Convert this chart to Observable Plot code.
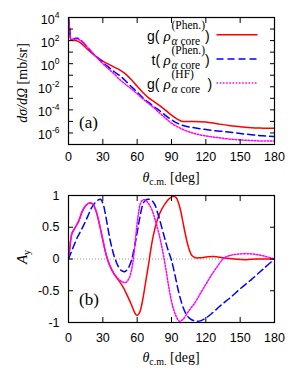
<!DOCTYPE html>
<html><head><meta charset="utf-8">
<script src="https://cdn.jsdelivr.net/npm/d3@7"></script>
<script src="https://cdn.jsdelivr.net/npm/@observablehq/plot@0.6"></script>
<style>
html,body{margin:0;padding:0;background:#fff;}
#chart{position:relative;width:291px;height:382px;overflow:hidden;background:#fff;}
#chart svg{position:absolute;left:0;overflow:visible;background:transparent;}
</style></head><body><div id="chart"></div>
<script>
// ---------- data ----------
const xTicks = [0, 30, 60, 90, 120, 150, 180];
const xTickLabels = ["0", "30", "60", "90", "120", "150", "180"];
const sigmaTicks = [1e-7, 1e-6, 1e-5, 1e-4, 1e-3, 1e-2, 1e-1, 1, 1e1, 1e2, 1e3, 1e4];
const sigmaTickLabelValues = [1e-6, 1e-4, 1e-2, 1, 1e2, 1e4];
const sigmaTickLabels = ["10^-6", "10^-4", "10^-2", "10^0", "10^2", "10^4"];
const ayTicks = [-1, -0.5, 0, 0.5, 1];
const ayTickLabels = ["-1", "-0.5", "0", "0.5", "1"];

const seriesNames = ["g Phen", "t Phen", "g HF"];
const seriesColors = ["#ff0000", "#0000ff", "#ff00ff"];

// panel (a): cross section
const thetaA = [0, 1, 2, 4, 6, 8, 10, 15, 20, 25, 30, 35, 40, 45, 50, 55, 60, 65, 70, 75, 80, 85, 90, 95, 100, 110, 120, 130, 140, 150, 160, 170, 180];
const sigmaGPhen = [8e3, 1e3, 1.1e2, 1.0e2, 1.0e2, 9e1, 7e1, 25, 9, 3.5, 1.7, 0.9, 0.5, 0.28, 0.125, 0.04, 0.011, 3.2e-3, 1.1e-3, 5e-4, 2.2e-4, 9e-5, 3.5e-5, 1.6e-5, 1.0e-5, 1.0e-5, 9e-6, 6.3e-6, 4.5e-6, 3.5e-6, 2.8e-6, 2.6e-6, 2.5e-6];
const sigmaTPhen = [8e3, 1e3, 1.25e2, 1.25e2, 1.6e2, 1.6e2, 1.25e2, 40, 11, 3.5, 1.25, 0.5, 0.2, 0.09, 0.032, 0.01, 3.5e-3, 1.1e-3, 4.5e-4, 1.8e-4, 8e-5, 3.2e-5, 1.4e-5, 7e-6, 4.5e-6, 2.8e-6, 2e-6, 1.5e-6, 1.2e-6, 9e-7, 7e-7, 5.6e-7, 5e-7];
const sigmaGHF = [8e3, 1e3, 1.25e2, 1.25e2, 1.4e2, 1.4e2, 1.1e2, 40, 11, 3.2, 1.0, 0.35, 0.125, 0.04, 0.016, 6.3e-3, 2.5e-3, 9e-4, 3.5e-4, 1.4e-4, 5e-5, 1.8e-5, 7e-6, 3.5e-6, 2e-6, 9e-7, 5.5e-7, 4e-7, 3e-7, 2.5e-7, 2.2e-7, 2e-7, 2e-7];

// panel (b): analyzing power
const thetaBGPhen = [0, 1, 3, 6, 9, 12, 15, 18, 21, 24, 27, 30, 33, 36, 40, 44, 48, 52, 55, 58, 60, 62, 64, 66, 68, 70, 72, 74, 77, 80, 84, 88, 92, 94, 96, 98, 100, 102, 104, 106, 108, 111, 115, 120, 127, 135, 145, 155, 165, 180];
const ayGPhen = [0, 0.15, 0.4, 0.5, 0.6, 0.75, 0.84, 0.88, 0.87, 0.76, 0.55, 0.3, 0.06, -0.1, -0.24, -0.34, -0.45, -0.6, -0.72, -0.85, -0.89, -0.85, -0.72, -0.52, -0.3, -0.08, 0.16, 0.36, 0.58, 0.73, 0.86, 0.95, 0.99, 0.97, 0.89, 0.76, 0.58, 0.4, 0.24, 0.12, 0.05, 0.02, 0.02, 0.03, 0.04, 0.02, 0.0, -0.01, 0.0, 0];
const thetaBTPhen = [0, 4, 8, 11, 14, 17, 20, 23, 26, 28, 30, 32, 34, 36, 38, 40, 43, 46, 49, 52, 55, 58, 60, 62, 64, 66, 69, 72, 75, 78, 81, 84, 87, 90, 93, 96, 99, 102, 105, 108, 112, 116, 120, 125, 130, 135, 140, 150, 160, 170, 180];
const ayTPhen = [0, 0.18, 0.35, 0.45, 0.56, 0.68, 0.8, 0.88, 0.93, 0.94, 0.88, 0.73, 0.53, 0.33, 0.17, 0.04, -0.1, -0.18, -0.2, -0.15, -0.02, 0.22, 0.42, 0.62, 0.8, 0.9, 0.94, 0.93, 0.87, 0.72, 0.53, 0.33, 0.14, -0.02, -0.25, -0.5, -0.7, -0.84, -0.92, -0.96, -0.98, -0.97, -0.93, -0.86, -0.78, -0.7, -0.63, -0.47, -0.32, -0.16, 0];
const thetaBGHF = [0, 1, 3, 6, 9, 12, 15, 18, 21, 24, 27, 30, 33, 36, 40, 44, 47, 50, 53, 55, 57, 59, 61, 63, 65, 67, 70, 73, 76, 79, 82, 85, 88, 91, 94, 97, 100, 105, 110, 115, 120, 125, 130, 135, 140, 150, 160, 170, 180];
const ayGHF = [0, 0.15, 0.4, 0.5, 0.6, 0.75, 0.84, 0.88, 0.87, 0.76, 0.55, 0.3, 0.06, -0.1, -0.24, -0.32, -0.36, -0.37, -0.3, -0.18, 0.05, 0.4, 0.7, 0.88, 0.93, 0.93, 0.87, 0.77, 0.6, 0.4, 0.15, -0.15, -0.48, -0.74, -0.9, -0.98, -0.95, -0.82, -0.7, -0.55, -0.4, -0.25, -0.12, 0.0, 0.05, 0.08, 0.08, 0.05, 0];

// ---------- build tables ----------
const tableA = [
  ...thetaA.map((t, i) => ({theta: t, v: sigmaGPhen[i], s: seriesNames[0]})),
  ...thetaA.map((t, i) => ({theta: t, v: sigmaTPhen[i], s: seriesNames[1]})),
  ...thetaA.map((t, i) => ({theta: t, v: sigmaGHF[i], s: seriesNames[2]}))
];
const tableB = [
  ...thetaBGPhen.map((t, i) => ({theta: t, v: ayGPhen[i], s: seriesNames[0]})),
  ...thetaBTPhen.map((t, i) => ({theta: t, v: ayTPhen[i], s: seriesNames[1]})),
  ...thetaBGHF.map((t, i) => ({theta: t, v: ayGHF[i], s: seriesNames[2]}))
];
const dashes = [null, "7,4", "1.6,1.6"];

const SERIF = "'Liberation Serif', 'DejaVu Serif', serif";
const SANS = "'Liberation Sans', Arial, sans-serif";

function lines(table, curve) {
  return seriesNames.map((n, k) => Plot.line(table.filter(d => d.s === n), {
    x: "theta", y: "v", stroke: seriesColors[k], strokeWidth: 1.5,
    strokeDasharray: dashes[k], curve, clip: true
  }));
}
function tickMarks(yT) {
  const o = {tickSize: -5, tickFormat: () => "", label: null, strokeWidth: 1};
  return [
    Plot.axisX(xTicks, {anchor: "bottom", ...o}),
    Plot.axisX(xTicks, {anchor: "top", ...o}),
    Plot.axisY(yT, {anchor: "left", ...o}),
    Plot.axisY(yT, {anchor: "right", ...o})
  ];
}

const chart = document.getElementById("chart");

// ---------- panel (a) ----------
const plotA = Plot.plot({
  width: 291, height: 190,
  marginLeft: 68, marginRight: 17, marginTop: 17, marginBottom: 46,
  style: {fontFamily: SANS, fontSize: "12.5px", background: "transparent", color: "black"},
  x: {domain: [0, 180]},
  y: {type: "log", domain: [1e-7, 1e4]},
  marks: [
    ...lines(tableA, "monotone-x"),
    Plot.frame({stroke: "black", strokeWidth: 1.2}),
    ...tickMarks(sigmaTicks),
    Plot.axisX(xTicks, {anchor: "bottom", tickSize: 0, tickPadding: 8, label: null,
      tickFormat: d => xTickLabels[xTicks.indexOf(d)]}),
    Plot.axisY(sigmaTickLabelValues, {anchor: "left", tickSize: 0, tickPadding: 9, label: null, dy: 2,
      tickFormat: d => sigmaTickLabels[sigmaTickLabelValues.indexOf(d)]})
  ]
});
plotA.style.top = "0px";
chart.appendChild(plotA);

// superscript exponents on the log axis labels
d3.select(plotA).selectAll('g[aria-label="y-axis tick label"] text').each(function () {
  const s = this.textContent;
  if (!s.includes("^")) return;
  const [b, e] = s.split("^");
  const t = d3.select(this);
  t.text(null);
  t.append("tspan").text(b);
  t.append("tspan").attr("font-size", "8.5px").attr("dy", "-0.65em").text(e);
});

// ---------- panel (b) ----------
const plotB = Plot.plot({
  width: 291, height: 192,
  marginLeft: 68, marginRight: 17, marginTop: 5, marginBottom: 60,
  style: {fontFamily: SANS, fontSize: "12.5px", background: "transparent", color: "black"},
  x: {domain: [0, 180]},
  y: {domain: [-1, 1]},
  marks: [
    Plot.ruleY([0], {stroke: "#999", strokeWidth: 1, strokeDasharray: "1,2"}),
    ...lines(tableB, "catmull-rom"),
    Plot.frame({stroke: "black", strokeWidth: 1.2}),
    ...tickMarks(ayTicks),
    Plot.axisX(xTicks, {anchor: "bottom", tickSize: 0, tickPadding: 11, label: null,
      tickFormat: d => xTickLabels[xTicks.indexOf(d)]}),
    Plot.axisY(ayTicks, {anchor: "left", tickSize: 0, tickPadding: 9, label: null,
      tickFormat: d => ayTickLabels[ayTicks.indexOf(d)]})
  ]
});
plotB.style.top = "190px";
chart.appendChild(plotB);

// ---------- titles, panel labels, legend ----------
function xTitle(svg, y) {
  const t = d3.select(svg).append("text").attr("x", 171).attr("y", y)
    .attr("text-anchor", "middle").attr("font-family", SERIF).attr("font-size", "14px").attr("fill", "black");
  t.append("tspan").attr("font-style", "italic").text("θ");
  t.append("tspan").attr("font-size", "10px").attr("dy", "3").text("c.m.");
  t.append("tspan").attr("dy", "-3").text(" [deg]");
}
xTitle(plotA, 182);
xTitle(plotB, 172);

// y titles
{
  const t = d3.select(plotA).append("text").attr("transform", "translate(26.5,83) rotate(-90)")
    .attr("text-anchor", "middle").attr("font-family", SERIF).attr("font-size", "14px").attr("fill", "black");
  t.append("tspan").attr("font-style", "italic").text("dσ/dΩ");
  t.append("tspan").text(" [mb/sr]");
  const u = d3.select(plotB).append("text").attr("transform", "translate(26.5,67) rotate(-90)")
    .attr("text-anchor", "middle").attr("font-family", SERIF).attr("font-size", "15px").attr("fill", "black");
  u.append("tspan").attr("font-style", "italic").text("A");
  u.append("tspan").attr("font-size", "10px").attr("dy", "3").text("y");
}
// panel labels
d3.select(plotA).append("text").attr("x", 79).attr("y", 128).attr("font-family", SERIF)
  .attr("text-anchor", "start").attr("font-size", "17px").attr("fill", "black").text("(a)");
d3.select(plotB).append("text").attr("x", 79).attr("y", 115).attr("font-family", SERIF)
  .attr("text-anchor", "start").attr("font-size", "17px").attr("fill", "black").text("(b)");

// legend
const legendFn = ["g(", "t(", "g("];
const legendSup = ["(Phen.)", "(Phen.)", "(HF)"];
const legendFnX = [147, 151.5, 147];
const legendCloseX = [205, 205, 207.5];
const L = d3.select(plotA).append("g").attr("text-anchor", "start").attr("fill", "black");
seriesNames.forEach((n, i) => {
  const ly = 34.7 + 24.2 * i;
  L.append("text").attr("x", legendFnX[i]).attr("y", ly + 5.8).attr("font-family", SANS)
    .attr("font-size", "14px").text(legendFn[i]);
  L.append("text").attr("x", 163.5).attr("y", ly + 5.8).attr("font-family", SERIF)
    .attr("font-style", "italic").attr("font-size", "15px").text("ρ");
  L.append("text").attr("x", 171.5).attr("y", ly - 5.3).attr("font-family", SERIF)
    .attr("font-size", "11.5px").text(legendSup[i]);
  const sub = L.append("text").attr("x", 171.5).attr("y", ly + 9.8).attr("font-family", SERIF)
    .attr("font-size", "11.5px");
  sub.append("tspan").attr("font-style", "italic").text("α");
  sub.append("tspan").text(" core");
  L.append("text").attr("x", legendCloseX[i]).attr("y", ly + 5.8).attr("font-family", SANS)
    .attr("font-size", "14px").text(")");
  L.append("line").attr("x1", 216.5).attr("x2", 257.5).attr("y1", ly).attr("y2", ly)
    .attr("stroke", seriesColors[i]).attr("stroke-width", 1.5)
    .attr("stroke-dasharray", dashes[i]);
});
</script>
</body></html>
